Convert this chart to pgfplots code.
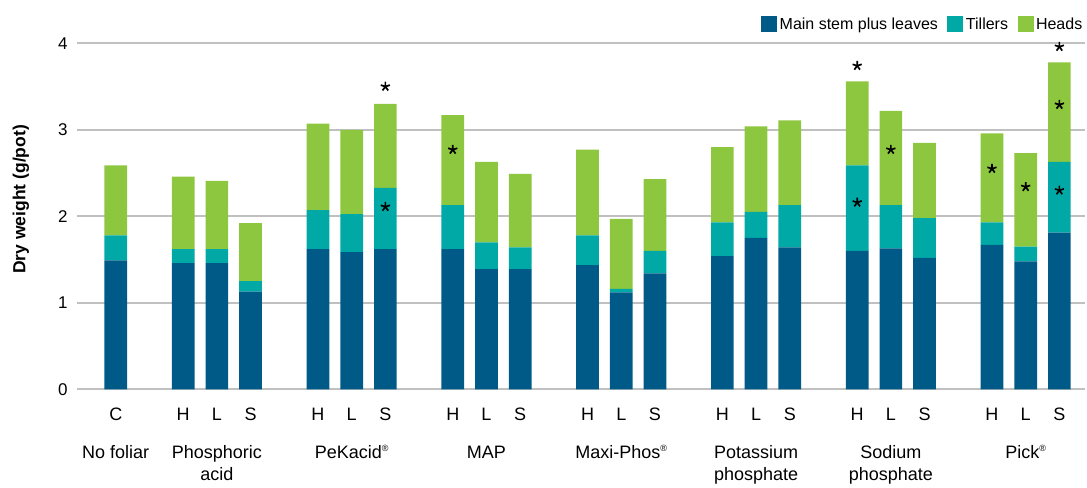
\documentclass[border=0pt]{standalone}
\usepackage{fontspec}
\setmainfont{Liberation Sans}
\usepackage{pgfplots}
\pgfplotsset{compat=1.18}
\definecolor{cmain}{HTML}{005A87}
\definecolor{ctill}{HTML}{00A9A6}
\definecolor{chead}{HTML}{8DC63F}
\definecolor{cgrid}{HTML}{C0C0C0}
\tikzset{grp/.style={font=\fontsize{18}{21}\selectfont, anchor=base}}
\newcommand{\reg}{\raisebox{0.42em}{\fontsize{9}{9}\selectfont ®}}
\begin{document}
\begin{tikzpicture}
\begin{axis}[
  at={(0,0)}, anchor=south west,
  scale only axis, width=1008pt, height=346pt,
  xmin=-1.15, xmax=28.76, ymin=0, ymax=4,
  ybar stacked, bar width=22.7pt,
  xtick={0,2,3,4,6,7,8,10,11,12,14,15,16,18,19,20,22,23,24,26,27,28},
  xticklabels={C,H,L,S,H,L,S,H,L,S,H,L,S,H,L,S,H,L,S,H,L,S},
  ytick={0,1,2,3,4},
  ymajorgrids, grid style={cgrid, line width=1.8pt},
  axis line style={draw=none},
  major tick length=0pt,
  /pgf/number format/assume math mode=true,
  yticklabel style={font=\fontsize{17}{20}\selectfont, anchor=east, xshift=-6pt},
  xticklabel style={font=\fontsize{18}{21}\selectfont, anchor=base, yshift=-31pt},
  ylabel={Dry weight (g/pot)},
  ylabel style={font=\fontsize{17.5}{20}\selectfont\bfseries, at={(axis description cs:-0.0556,0.549)}, anchor=center},
  legend columns=3,
  legend style={at={(1,1)}, anchor=south east, yshift=10pt, draw=none, fill=none, inner sep=0pt,
    font=\fontsize{16}{19}\selectfont,
    /tikz/every even column/.append style={column sep=7pt},
    nodes={inner sep=2.5pt}},
  legend image code/.code={\fill[#1] (0pt,-8pt) rectangle (16pt,8pt);},
  clip=false,
]
\addplot[fill=cmain, draw=none] coordinates {
(0,1.49) (2,1.46) (3,1.46) (4,1.13) (6,1.62) (7,1.585) (8,1.62)
(10,1.62) (11,1.39) (12,1.39) (14,1.435) (15,1.12) (16,1.34)
(18,1.54) (19,1.75) (20,1.64) (22,1.60) (23,1.63) (24,1.52)
(26,1.67) (27,1.48) (28,1.81)};
\addplot[fill=ctill, draw=none] coordinates {
(0,0.29) (2,0.16) (3,0.16) (4,0.12) (6,0.45) (7,0.44) (8,0.71)
(10,0.51) (11,0.31) (12,0.25) (14,0.345) (15,0.04) (16,0.26)
(18,0.39) (19,0.30) (20,0.49) (22,0.99) (23,0.50) (24,0.46)
(26,0.26) (27,0.17) (28,0.82)};
\addplot[fill=chead, draw=none] coordinates {
(0,0.81) (2,0.84) (3,0.79) (4,0.67) (6,1.00) (7,0.975) (8,0.97)
(10,1.04) (11,0.93) (12,0.85) (14,0.99) (15,0.81) (16,0.83)
(18,0.87) (19,0.99) (20,0.98) (22,0.97) (23,1.09) (24,0.87)
(26,1.03) (27,1.08) (28,1.15)};
\legend{Main stem plus leaves, Tillers, Heads}
\node[grp, yshift=-69.3pt] at (axis cs:0,0) {No foliar};
\node[grp, yshift=-69.3pt] at (axis cs:3,0) {Phosphoric};
\node[grp, yshift=-91pt] at (axis cs:3,0) {acid};
\node[grp, yshift=-69.3pt] at (axis cs:7,0) {PeKacid\reg};
\node[grp, yshift=-69.3pt] at (axis cs:11,0) {MAP};
\node[grp, yshift=-69.3pt] at (axis cs:15,0) {Maxi-Phos\reg};
\node[grp, yshift=-69.3pt] at (axis cs:19,0) {Potassium};
\node[grp, yshift=-91pt] at (axis cs:19,0) {phosphate};
\node[grp, yshift=-69.3pt] at (axis cs:23,0) {Sodium};
\node[grp, yshift=-91pt] at (axis cs:23,0) {phosphate};
\node[grp, yshift=-69.3pt] at (axis cs:27,0) {Pick\reg};
\end{axis}
\begin{axis}[
  at={(0,0)}, anchor=south west,
  scale only axis, width=1008pt, height=346pt,
  xmin=-1.15, xmax=28.76, ymin=0, ymax=4,
  hide axis, clip=false,
]
\addplot[only marks, mark=star, mark size=4.8pt, mark options={line width=1.7pt, black}] coordinates {
(8,3.50) (8,2.11) (10,2.77) (22,3.74) (22,2.16) (23,2.77)
(26,2.55) (27,2.34) (28,3.96) (28,3.29) (28,2.30)};
\end{axis}
\path[use as bounding box] (-77pt,-95pt) rectangle (1010pt,389.3pt);
\end{tikzpicture}
\end{document}
